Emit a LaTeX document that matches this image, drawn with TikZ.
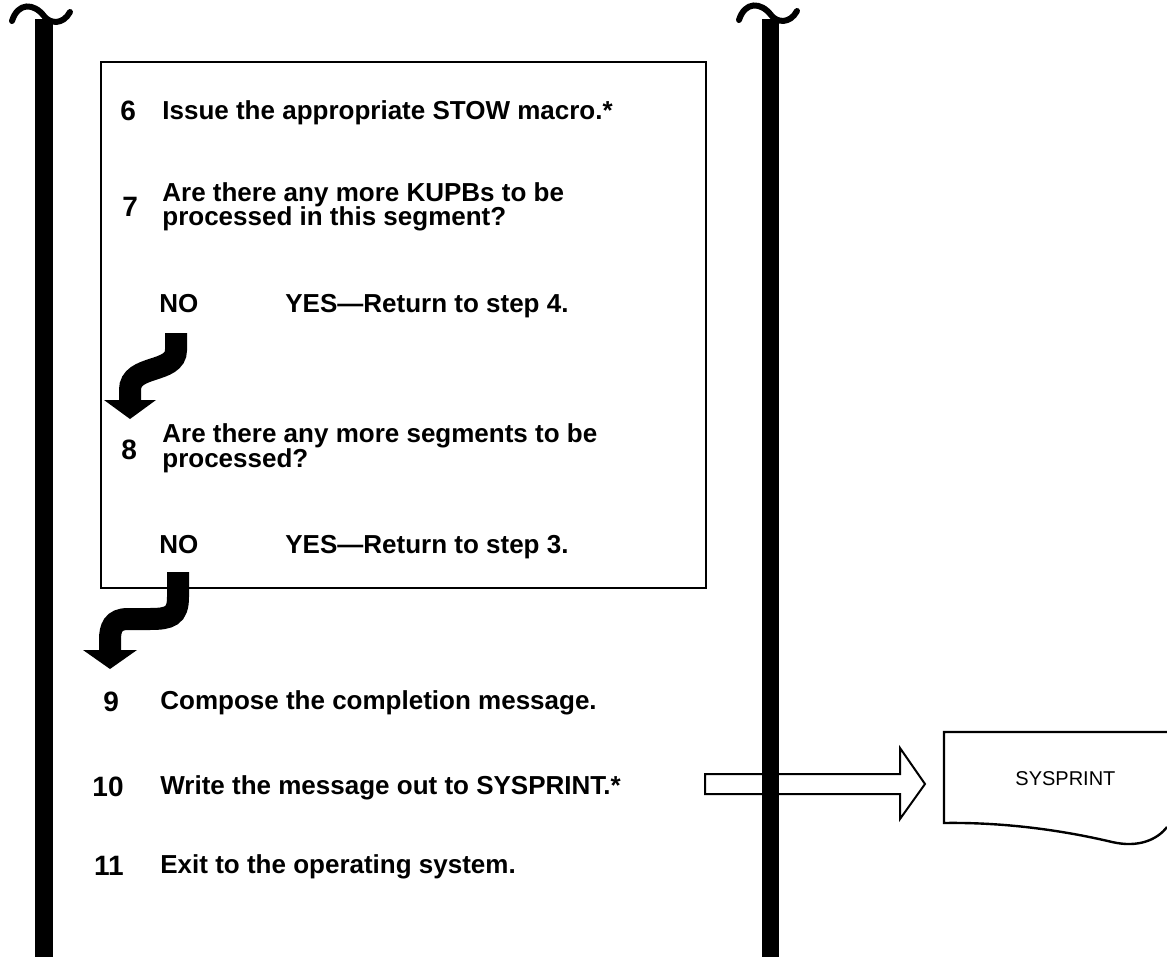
\documentclass[tikz,border=0pt]{standalone}
\usepackage{fontspec}
\setmainfont{Liberation Sans}
\begin{document}
\begin{tikzpicture}[x=0.5pt,y=-0.5pt,
  txt/.style={anchor=base west,inner sep=0pt,font=\fontsize{13}{13}\selectfont\bfseries},
  numl/.style={anchor=base west,inner sep=0pt,font=\fontsize{14}{14}\selectfont\bfseries},
  numr/.style={anchor=base east,inner sep=0pt,font=\fontsize{14}{14}\selectfont\bfseries},
  panel/.style={line width=1.2pt},
  bendarrow/.style={line width=11pt,line cap=butt},
  tilde/.style={line width=3pt,line cap=round},
  fatarrow/.style={line width=1pt,fill=white,line join=miter},
  doc/.style={line width=1.2pt}]
\useasboundingbox (0,0) rectangle (1167,957);

% step panel
\draw[panel] (101,62) rectangle (706,588);

% steps inside the panel
\node[numl] (n6) at (120,121) {6};
\node[txt] (s6) at (162,120) {Issue the appropriate STOW macro.*};
\node[numl] (n7) at (122,217) {7};
\node[txt] (s7a) at (162,202) {Are there any more KUPBs to be};
\node[txt] (s7b) at (162,226) {processed in this segment?};
\node[txt] (no1) at (159,313) {NO};
\node[txt] (yes1) at (285,313) {YES—Return to step 4.};
\node[numl] (n8) at (121,459) {8};
\node[txt] (s8a) at (162,442) {Are there any more segments to be};
\node[txt] (s8b) at (162,467) {processed?};
\node[txt] (no2) at (159,553) {NO};
\node[txt] (yes2) at (285,553) {YES—Return to step 3.};

% steps below the panel
\node[numl] (n9) at (103,711) {9};
\node[txt] (s9) at (160,709) {Compose the completion message.};
\node[numr] (n10) at (124,796) {10};
\node[txt] (s10) at (160,794) {Write the message out to SYSPRINT.*};
\node[numr] (n11) at (124,875) {11};
\node[txt] (s11) at (160,873) {Exit to the operating system.};

% bent NO arrows
\coordinate (a1top) at (176,333);
\coordinate (a1end) at (130,401);
\draw[bendarrow] (a1top) -- (176,350) .. controls (176,374) and (130,364) .. (130,390) -- (a1end);
\fill (104,400) -- (156,400) -- (130,419) -- cycle;

\coordinate (a2top) at (178,572);
\coordinate (a2end) at (110,651);
\draw[bendarrow] (a2top) -- (178,597) .. controls (178,616) and (170,619) .. (150,619) -- (128,619) .. controls (113,619) and (110,628) .. (110,640) -- (a2end);
\fill (83,650) -- (137,650) -- (110,669) -- cycle;

% output document
\draw[doc] (1167,732) -- (944,732) -- (944,823)
  .. controls (1010,822) and (1070,832) .. (1112,842)
  .. controls (1138,848) and (1157,840) .. (1167,827);
\node[inner sep=0pt,anchor=base west,font=\fontsize{10}{10}\selectfont] (sysprint) at (1015,785) {SYSPRINT};

% hollow arrow to the output
\draw[fatarrow] (705,774) -- (900,774) -- (900,748) -- (925,784) -- (900,819) -- (900,794) -- (705,794) -- cycle;

% vertical rails with their hooks
\fill (35,19) rectangle (53,957);
\draw[tilde] (12,21) .. controls (18,2) and (34,3) .. (44,16) .. controls (50,24) and (63,25) .. (70,12);
\fill (762,19) rectangle (779,957);
\draw[tilde] (739,20) .. controls (745,1) and (761,2) .. (771,15) .. controls (777,23) and (790,24) .. (797,11);
\end{tikzpicture}
\end{document}
